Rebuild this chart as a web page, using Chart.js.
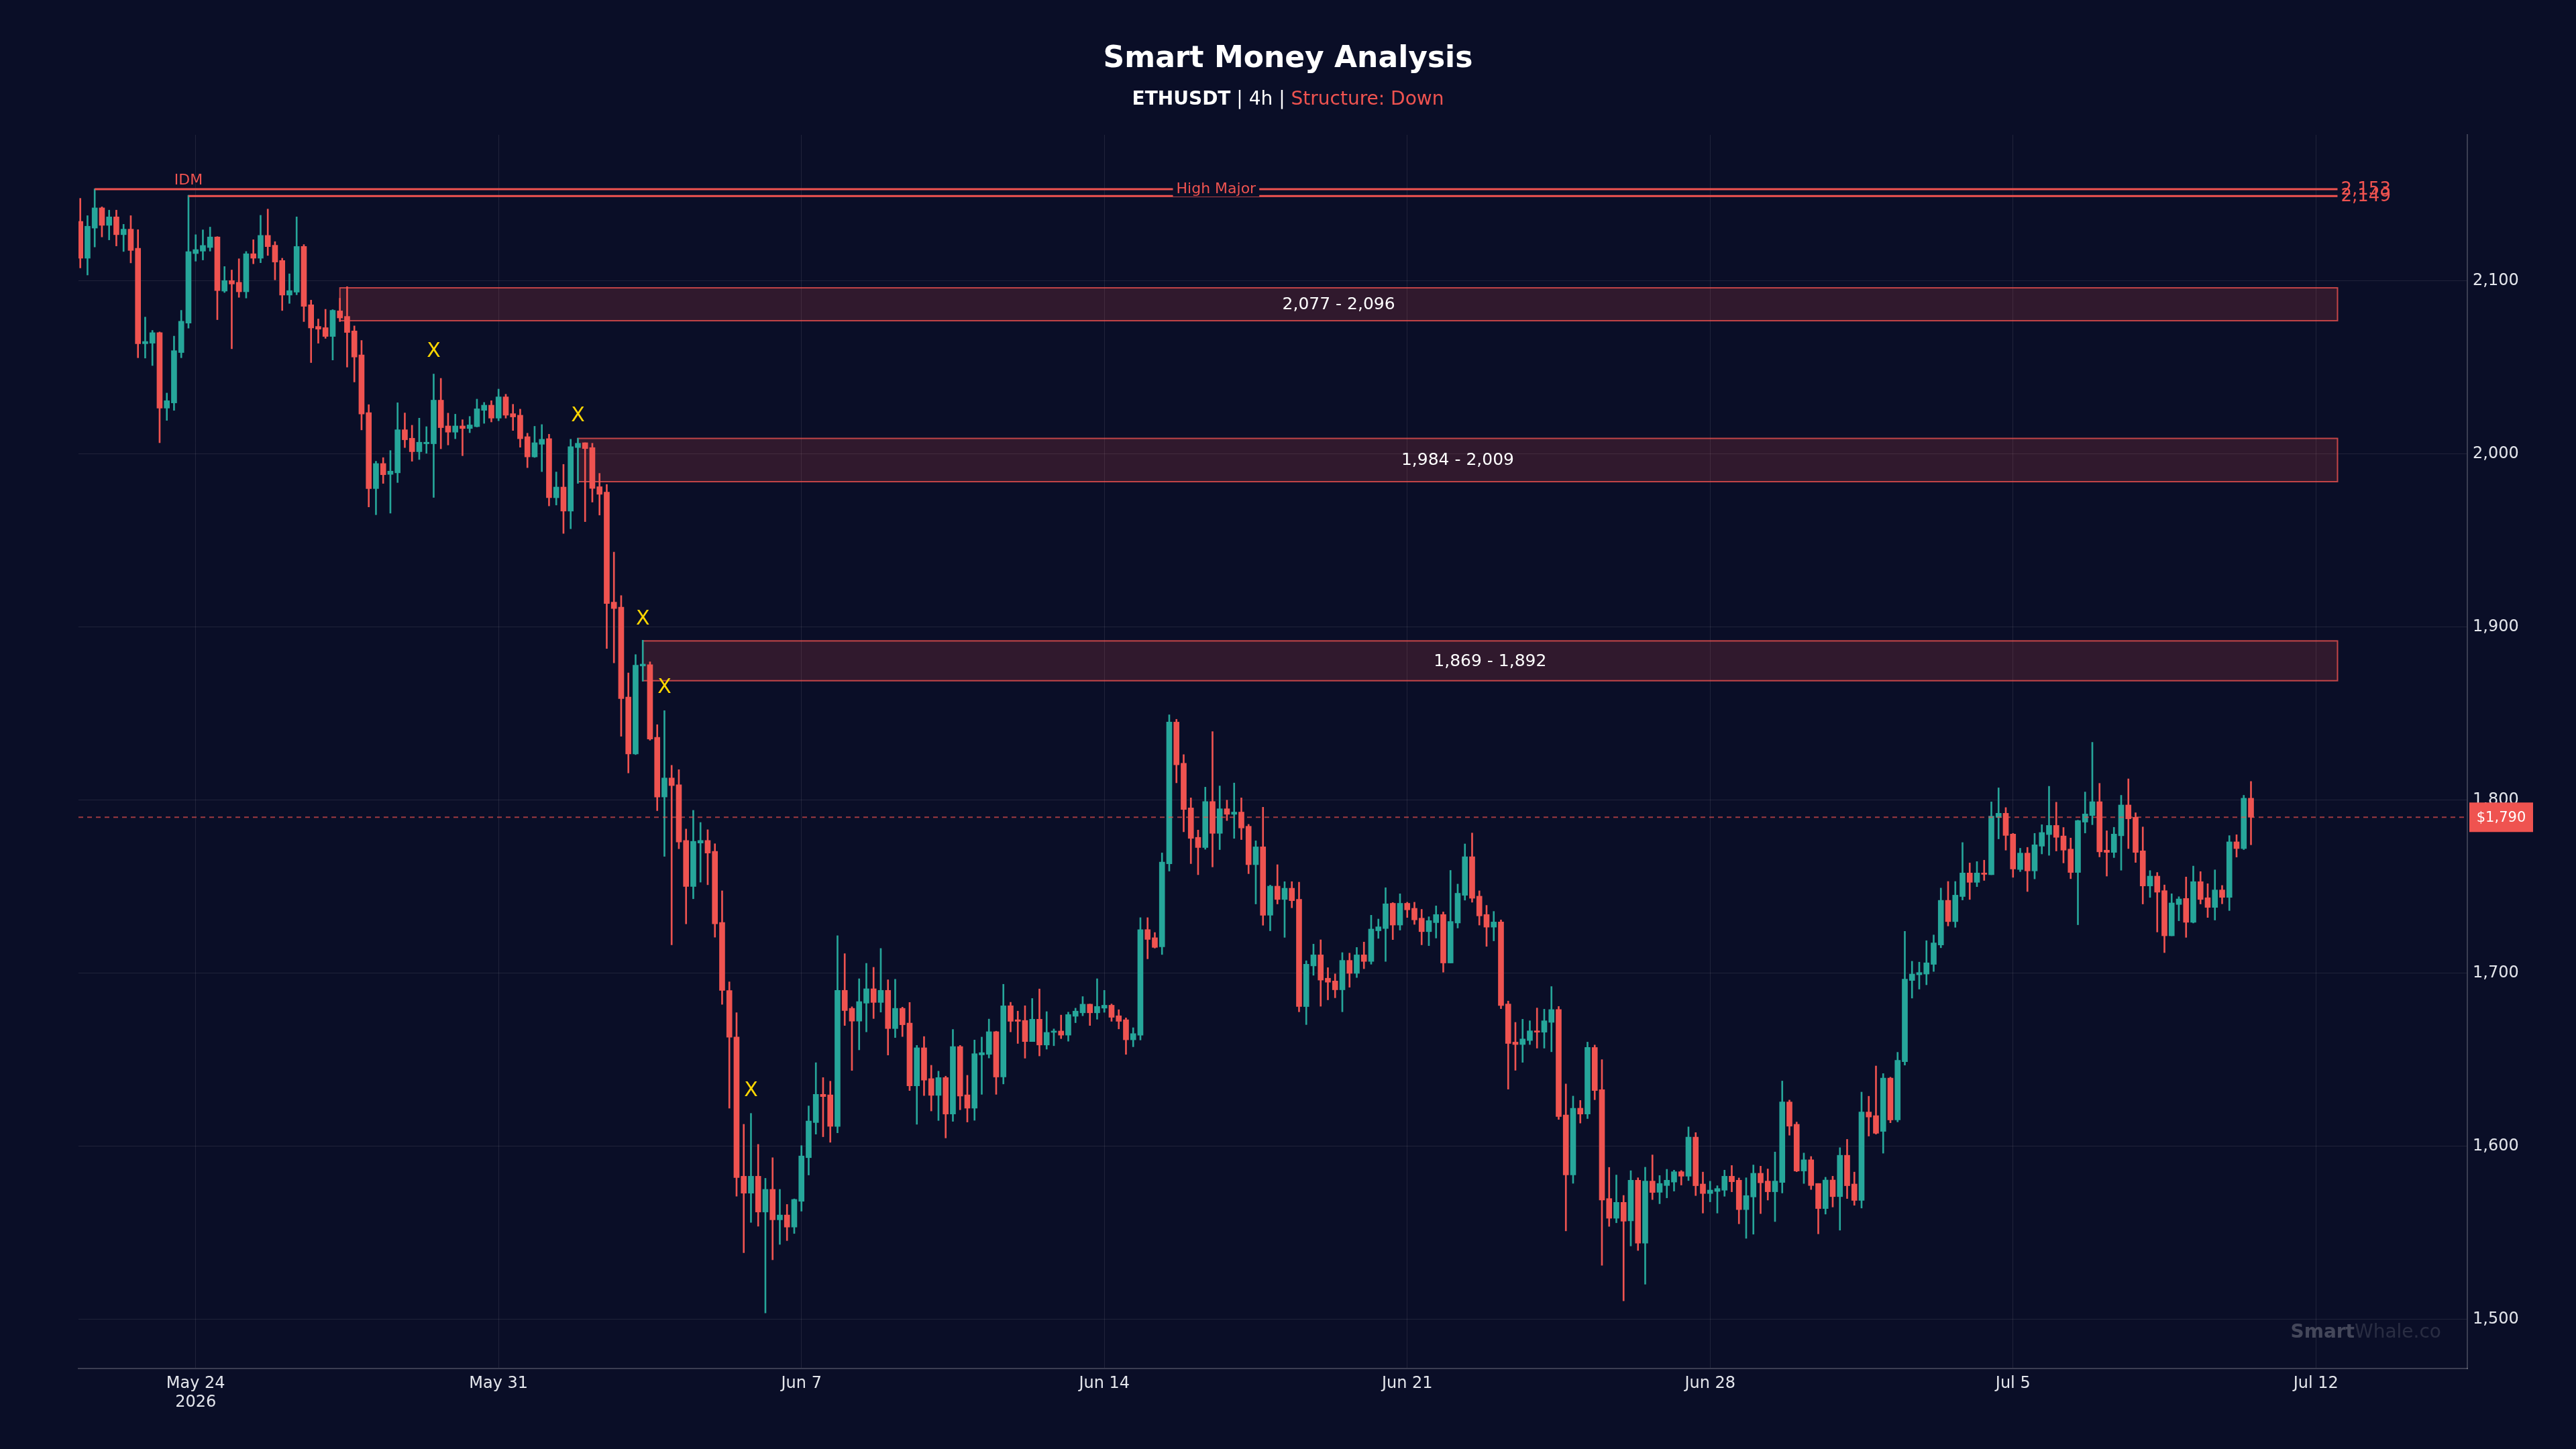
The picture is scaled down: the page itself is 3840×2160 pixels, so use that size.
<!DOCTYPE html>
<html>
<head>
<meta charset="utf-8">
<script src="https://cdn.jsdelivr.net/npm/chart.js@4.4.1/dist/chart.umd.min.js"></script>
<style>
html,body{margin:0;padding:0;background:#0a0e27;width:3840px;height:2160px;overflow:hidden}
#wrap{position:relative;width:3840px;height:2160px}
#c{position:absolute;left:0;top:0}
.ttl{position:absolute;left:0;width:3840px;text-align:center;font-family:'DejaVu Sans',sans-serif;color:#ffffff;white-space:pre}
#t1{top:63px;font-size:44px;line-height:44px;font-weight:bold}
#t2{top:133px;font-size:28px;line-height:28px}
#t2 .red{color:#ef5350}
</style>
</head>
<body>
<div id="wrap">
<canvas id="c" width="3840" height="2160"></canvas>
<div class="ttl" id="t1">Smart Money Analysis</div>
<div class="ttl" id="t2"><b>ETHUSDT</b> | 4h | <span class="red">Structure: Down</span></div>
</div>
<script>
// ---------------- DATA ----------------
const firstBarTime = Date.UTC(2026, 4, 21, 8);   // first 4h candle
const axisOrigin   = Date.UTC(2026, 4, 24, 0);   // May 24 2026
const barMs = 4 * 3600 * 1000;

const open = [
2134.4,2113.1,2130.5,2142.2,2132.1,2137.0,2126.7,2129.9,2118.9,2063.7,2064.0,2070.1,2026.5,2029.5,2058.6,2075.6,
2115.8,2117.2,2119.3,2125.4,2094.1,2100.2,2099.2,2093.7,2115.7,2113.1,2126.3,2120.6,2111.8,2091.8,2093.5,2119.9,
2086.2,2073.7,2073.0,2067.9,2082.7,2079.5,2071.1,2057.2,2023.9,1980.0,1994.5,1988.2,1989.1,2014.0,2009.1,2001.3,
2005.9,2005.9,2031.1,2016.2,2012.6,2016.2,2014.7,2015.8,2025.2,2028.2,2020.7,2033.0,2023.3,2022.4,2010.0,1998.3,
2005.6,2008.9,1974.7,1980.9,1967.0,2003.7,2006.5,2003.7,1981.1,1978.0,1914.4,1911.5,1859.6,1826.7,1877.5,1878.3,
1836.3,1801.8,1812.8,1808.9,1776.7,1750.1,1775.2,1776.7,1770.4,1729.3,1690.0,1663.1,1582.7,1572.9,1582.7,1562.0,
1575.1,1557.5,1560.3,1553.3,1568.2,1593.4,1613.7,1630.0,1629.7,1611.5,1690.1,1679.7,1672.3,1682.7,1691.0,1683.1,
1690.1,1668.0,1679.7,1671.2,1634.9,1656.9,1639.1,1629.4,1639.7,1618.6,1657.6,1629.7,1622.0,1652.8,1653.1,1666.2,
1640.0,1681.2,1673.1,1672.7,1660.5,1673.4,1658.5,1665.8,1666.6,1664.2,1675.1,1677.1,1682.1,1677.1,1679.8,1681.5,
1675.4,1673.1,1661.5,1664.2,1725.2,1720.5,1715.2,1763.2,1845.1,1821.3,1795.5,1778.5,1772.6,1799.2,1780.8,1795.0,
1791.8,1793.1,1784.9,1762.7,1773.0,1733.5,1750.3,1742.6,1749.1,1742.7,1680.7,1704.2,1710.6,1697.1,1695.5,1690.4,
1707.4,1699.9,1710.6,1706.8,1724.5,1725.8,1740.4,1727.8,1740.4,1737.5,1731.8,1724.0,1729.2,1733.9,1705.9,1729.0,
1745.0,1767.3,1744.5,1733.9,1726.6,1729.6,1682.2,1660.2,1658.8,1661.1,1666.7,1665.9,1671.6,1679.0,1618.1,1583.5,
1622.0,1618.6,1657.1,1632.7,1569.8,1558.4,1567.6,1556.9,1580.4,1544.0,1579.9,1573.4,1577.3,1579.3,1585.3,1582.7,
1605.3,1578.2,1572.7,1573.9,1574.6,1582.7,1580.4,1563.4,1570.7,1584.4,1579.9,1573.7,1579.1,1625.6,1612.7,1585.7,
1592.2,1578.5,1564.0,1580.5,1570.9,1594.8,1578.2,1568.7,1619.8,1617.7,1608.6,1639.4,1615.2,1648.9,1695.8,1699.1,
1699.5,1705.1,1716.3,1742.1,1729.8,1744.3,1757.9,1752.5,1757.9,1756.9,1790.0,1792.4,1780.4,1759.9,1769.4,1759.1,
1773.4,1780.1,1785.4,1779.3,1771.7,1758.2,1787.3,1791.1,1799.1,1771.1,1769.8,1779.4,1797.2,1790.1,1770.7,1750.4,
1756.1,1747.7,1721.6,1739.7,1743.2,1729.4,1752.9,1743.6,1738.0,1748.1,1743.8,1775.9,1772.0,1801.1
];
const high = [
2147.7,2137.7,2153.2,2142.8,2140.9,2140.9,2132.7,2137.7,2129.6,2079.1,2071.4,2070.5,2035.2,2068.1,2083.0,2149.5,
2126.7,2129.5,2131.1,2125.6,2108.3,2106.3,2112.8,2117.0,2123.8,2137.9,2141.5,2122.7,2113.1,2104.1,2137.0,2121.0,
2088.9,2078.0,2083.6,2083.4,2090.0,2096.7,2074.0,2065.6,2028.5,1995.8,1997.9,2002.0,2029.6,2023.7,2016.6,2020.7,
2015.8,2046.2,2043.7,2023.6,2023.0,2019.8,2021.7,2031.7,2029.8,2030.8,2037.5,2034.5,2028.7,2025.9,2012.0,2016.0,
2017.0,2011.4,1989.6,1994.0,2008.5,2009.1,2006.5,2006.2,1988.8,1982.4,1943.3,1918.2,1873.5,1884.1,1892.4,1879.9,
1843.6,1851.7,1820.1,1817.6,1783.3,1794.1,1787.1,1782.9,1774.8,1747.6,1695.0,1677.2,1612.7,1619.0,1601.1,1581.5,
1593.4,1575.1,1566.4,1569.6,1600.4,1623.3,1648.3,1639.7,1637.6,1721.7,1711.3,1680.6,1696.8,1705.7,1703.4,1714.3,
1696.2,1696.5,1680.4,1683.1,1658.3,1663.4,1646.8,1643.4,1640.5,1667.5,1658.3,1641.0,1661.4,1663.1,1673.5,1666.5,
1693.6,1683.2,1678.1,1681.2,1685.4,1690.9,1677.8,1667.8,1675.8,1677.5,1679.8,1686.5,1682.2,1696.8,1690.1,1682.2,
1678.9,1674.2,1668.5,1732.1,1732.1,1723.5,1769.5,1849.3,1846.7,1826.3,1801.3,1782.7,1807.5,1839.6,1808.2,1800.0,
1809.9,1801.3,1786.0,1776.5,1795.9,1750.9,1762.7,1752.9,1752.9,1752.6,1707.2,1716.8,1719.3,1703.2,1699.6,1711.9,
1711.6,1714.9,1718.0,1733.5,1731.3,1749.4,1740.8,1745.9,1741.0,1741.0,1736.9,1732.6,1738.9,1735.4,1759.4,1751.5,
1774.7,1781.0,1747.6,1739.2,1735.7,1730.8,1683.9,1671.6,1673.4,1672.5,1679.9,1679.2,1692.3,1680.8,1636.0,1629.0,
1626.5,1660.2,1658.5,1650.1,1587.8,1583.4,1571.6,1585.9,1581.8,1587.9,1595.0,1583.1,1586.7,1586.2,1586.0,1611.2,
1607.9,1585.1,1579.8,1577.2,1586.2,1588.9,1581.7,1581.8,1589.2,1588.5,1586.9,1596.7,1637.7,1626.7,1614.0,1596.1,
1594.1,1578.5,1582.1,1582.7,1599.2,1604.0,1585.1,1631.3,1628.9,1646.4,1642.0,1639.9,1654.3,1724.2,1706.9,1706.4,
1718.8,1722.1,1749.2,1753.0,1753.0,1775.5,1763.7,1764.5,1765.3,1799.0,1807.1,1795.7,1780.8,1772.2,1772.7,1780.8,
1785.8,1808.0,1798.8,1784.2,1778.1,1788.4,1804.7,1833.4,1809.7,1782.3,1784.3,1802.8,1812.3,1792.7,1784.5,1759.3,
1758.2,1751.0,1745.9,1744.2,1755.6,1761.9,1758.7,1751.7,1759.7,1750.7,1779.5,1780.0,1802.8,1810.8
];
const low = [
2107.5,2103.4,2119.6,2125.4,2123.7,2120.2,2117.0,2110.4,2055.6,2055.4,2051.1,2006.5,2019.4,2025.2,2055.6,2072.7,
2111.4,2112.1,2117.2,2077.6,2093.3,2060.8,2090.5,2090.1,2109.9,2110.5,2114.7,2100.6,2082.9,2087.0,2092.0,2076.5,
2052.8,2064.0,2066.8,2054.3,2076.5,2050.2,2041.6,2013.9,1969.4,1964.9,1983.0,1965.8,1983.5,2003.7,1995.8,1996.8,
2000.4,1974.9,2003.0,2005.2,2008.8,1999.0,2012.3,2015.6,2017.7,2018.5,2019.2,2020.7,2013.6,2003.9,1992.1,1998.0,
1989.8,1970.0,1970.5,1954.1,1956.8,1983.0,1960.9,1972.2,1964.7,1887.6,1879.3,1836.9,1815.7,1826.3,1868.7,1834.6,
1793.9,1767.5,1716.4,1771.9,1728.5,1743.0,1752.6,1751.1,1720.8,1682.0,1622.0,1571.1,1538.5,1556.0,1553.8,1503.7,
1534.4,1543.3,1545.5,1549.6,1562.5,1583.4,1607.0,1605.5,1602.3,1607.8,1669.8,1643.8,1655.7,1666.1,1673.8,1677.5,
1652.7,1662.8,1663.4,1632.2,1612.7,1629.3,1620.4,1614.9,1604.8,1614.4,1621.1,1614.0,1615.0,1630.0,1651.0,1630.0,
1636.0,1666.1,1659.4,1650.9,1660.5,1652.2,1656.1,1658.1,1662.2,1660.7,1671.4,1675.4,1669.8,1673.4,1677.4,1672.2,
1667.8,1653.1,1657.5,1661.4,1708.3,1714.5,1710.8,1759.0,1810.0,1781.7,1763.3,1756.9,1771.6,1761.4,1771.4,1788.2,
1777.9,1777.2,1757.5,1740.0,1727.7,1724.5,1740.0,1720.7,1737.8,1677.7,1670.3,1698.8,1680.9,1684.6,1685.8,1677.7,
1691.9,1697.5,1702.6,1705.2,1720.1,1706.8,1719.4,1724.9,1732.2,1728.2,1716.4,1715.9,1720.3,1700.6,1705.9,1726.1,
1742.2,1741.0,1727.8,1715.5,1718.7,1679.5,1633.0,1643.9,1648.5,1658.8,1656.7,1656.7,1654.6,1615.5,1551.1,1578.6,
1613.4,1616.0,1626.9,1531.2,1553.7,1555.8,1510.7,1542.4,1539.8,1520.3,1569.2,1566.8,1570.2,1574.1,1577.6,1580.2,
1571.5,1561.4,1567.9,1561.4,1571.1,1573.7,1555.2,1546.8,1549.2,1561.1,1568.9,1556.5,1573.0,1606.4,1585.3,1578.5,
1575.0,1549.4,1560.8,1564.9,1551.5,1569.8,1565.9,1564.3,1605.9,1607.0,1596.0,1613.6,1614.1,1646.9,1685.6,1690.8,
1693.3,1701.0,1714.7,1727.3,1726.5,1742.3,1742.6,1750.0,1753.6,1756.9,1777.6,1771.1,1755.4,1758.7,1747.2,1754.5,
1768.9,1768.1,1770.6,1763.7,1754.6,1728.0,1781.0,1785.8,1767.2,1756.1,1766.8,1759.5,1772.0,1764.0,1740.0,1743.8,
1723.8,1711.9,1721.6,1730.3,1720.7,1729.0,1740.0,1732.2,1730.7,1740.1,1736.2,1767.1,1771.4,1774.2
];
const close = [
2113.1,2131.6,2142.2,2132.1,2137.0,2126.7,2129.9,2117.6,2063.7,2065.0,2070.1,2026.5,2030.8,2059.7,2076.7,2116.9,
2118.1,2120.5,2125.4,2094.4,2100.2,2098.2,2093.7,2115.7,2113.1,2126.3,2119.8,2110.9,2091.8,2094.4,2119.9,2085.3,
2072.8,2072.1,2067.9,2083.0,2078.6,2070.2,2056.0,2023.1,1980.0,1994.5,1988.0,1990.1,2014.0,2008.2,2001.3,2006.8,
2006.8,2031.1,2015.2,2012.6,2016.2,2014.7,2016.8,2026.1,2028.2,2020.7,2033.0,2022.4,2021.4,2008.8,1998.3,2006.5,
2008.5,1974.7,1980.9,1967.0,2004.2,2006.2,2003.1,1980.1,1976.7,1913.6,1910.7,1858.7,1826.7,1878.0,1878.6,1835.3,
1801.8,1812.8,1808.4,1775.8,1750.1,1776.2,1776.7,1769.4,1728.5,1690.0,1663.0,1581.9,1572.9,1582.7,1562.0,1575.1,
1557.5,1560.3,1553.3,1569.3,1594.4,1614.6,1630.0,1628.7,1611.5,1690.1,1678.4,1672.3,1683.6,1691.0,1683.1,1690.1,
1668.0,1679.7,1670.2,1634.9,1656.9,1638.2,1629.4,1639.7,1618.6,1657.6,1629.0,1622.0,1653.5,1654.1,1666.2,1640.0,
1681.2,1672.2,1672.2,1660.5,1673.4,1658.5,1665.8,1666.6,1664.2,1676.1,1678.1,1682.1,1677.1,1680.8,1681.5,1674.5,
1672.2,1661.5,1665.1,1725.2,1719.5,1714.9,1764.2,1845.1,1820.4,1794.6,1777.9,1772.6,1799.2,1780.8,1795.0,1791.8,
1793.1,1783.9,1762.7,1773.0,1733.5,1750.3,1742.6,1749.1,1741.9,1680.7,1705.2,1710.6,1696.0,1694.8,1690.4,1707.4,
1699.9,1710.6,1706.8,1725.5,1726.8,1740.1,1727.8,1740.4,1736.6,1730.8,1724.0,1730.4,1733.9,1705.9,1729.9,1746.2,
1767.3,1743.3,1733.1,1726.6,1729.6,1681.3,1659.4,1658.8,1662.0,1666.7,1665.9,1672.5,1679.0,1617.2,1583.5,1622.0,
1618.6,1657.1,1632.2,1568.9,1558.4,1567.6,1556.7,1580.4,1544.0,1579.9,1573.3,1578.5,1580.4,1585.3,1582.7,1605.3,
1577.2,1572.7,1574.7,1575.6,1582.7,1579.5,1563.4,1571.5,1584.4,1578.9,1573.7,1579.9,1625.6,1611.6,1585.7,1592.2,
1577.3,1564.0,1580.5,1570.9,1594.8,1577.2,1568.7,1619.8,1616.9,1607.5,1639.4,1615.2,1649.7,1696.6,1699.5,1700.4,
1706.0,1717.5,1742.1,1729.8,1745.1,1757.9,1752.5,1757.9,1757.1,1790.8,1792.4,1779.6,1760.2,1769.4,1759.1,1774.2,
1781.3,1785.4,1778.5,1771.1,1758.2,1788.2,1792.0,1799.1,1770.1,1769.8,1780.4,1797.2,1789.2,1769.8,1750.4,1756.1,
1746.8,1721.6,1740.6,1742.9,1729.4,1752.9,1742.6,1738.0,1748.1,1743.8,1775.9,1772.0,1801.1,1790.1
];

// Supply / order-block zones (start bar = bars from May 24 00:00)
const zoneStart = [20, 53, 62];
const zoneLow   = [2077, 1984, 1869];
const zoneHigh  = [2096, 2009, 1892];

// Structure levels
const levelPrice = [2153, 2149];
const levelStart = [-14, -1];
const levelName  = ['High Major', 'IDM'];

// "X" markers (bar, price)
const markBar   = [33, 53, 62, 65, 77];
const markPrice = [2059, 2022, 1904.5, 1865, 1632];

// axis ticks
const yTicks = [1500, 1600, 1700, 1800, 1900, 2000, 2100];
const xTickBars = [0, 42, 84, 126, 168, 210, 252, 294];
const extendBars = 12;
const xMin = -16.25, xMax = 315, yMin = 1471.6, yMax = 2184.4;

// ---------------- CHART ----------------
const GREEN = '#26a69a', RED = '#ef5350';
const firstBar = (firstBarTime - axisOrigin) / barMs;
const xs = open.map((_, i) => firstBar + i);
const cols = open.map((o, i) => close[i] >= o ? GREEN : RED);
const lastBar = xs[xs.length - 1];
const extEnd = lastBar + extendBars;
const lastPrice = close[close.length - 1];
const fmt = v => Math.round(v).toLocaleString('en-US');
const months = ['Jan','Feb','Mar','Apr','May','Jun','Jul','Aug','Sep','Oct','Nov','Dec'];
const FONT = "'DejaVu Sans', sans-serif";
Chart.defaults.font.family = FONT;

const overlay = {
  id: 'overlay',
  beforeDatasetsDraw(chart) {
    const {ctx, chartArea: a, scales: {x, y}} = chart;
    ctx.save();
    ctx.beginPath(); ctx.rect(a.left, a.top, a.right - a.left, a.bottom - a.top); ctx.clip();
    for (let k = 0; k < zoneLow.length; k++) {
      const x0 = x.getPixelForValue(zoneStart[k]), x1 = x.getPixelForValue(extEnd);
      const y0 = y.getPixelForValue(zoneHigh[k]), y1 = y.getPixelForValue(zoneLow[k]);
      ctx.fillStyle = 'rgba(239,83,80,0.17)';
      ctx.fillRect(x0, y0, x1 - x0, y1 - y0);
      ctx.strokeStyle = 'rgba(239,83,80,0.8)';
      ctx.lineWidth = 2;
      ctx.strokeRect(x0, y0, x1 - x0, y1 - y0);
    }
    ctx.restore();
  },
  afterDatasetsDraw(chart) {
    const {ctx, chartArea: a, scales: {x, y}} = chart;
    ctx.save();
    // zone labels
    ctx.font = '25px ' + FONT;
    ctx.fillStyle = '#ffffff';
    ctx.textAlign = 'center'; ctx.textBaseline = 'middle';
    for (let k = 0; k < zoneLow.length; k++) {
      const x0 = x.getPixelForValue(zoneStart[k]), x1 = x.getPixelForValue(extEnd);
      const ym = (y.getPixelForValue(zoneHigh[k]) + y.getPixelForValue(zoneLow[k])) / 2;
      ctx.fillText(fmt(zoneLow[k]) + ' - ' + fmt(zoneHigh[k]), (x0 + x1) / 2, ym + 1);
    }
    // current price dashed line
    const yl = y.getPixelForValue(lastPrice);
    ctx.strokeStyle = 'rgba(239,83,80,0.65)';
    ctx.lineWidth = 2;
    ctx.setLineDash([7, 6]);
    ctx.beginPath(); ctx.moveTo(a.left, yl); ctx.lineTo(a.right, yl); ctx.stroke();
    ctx.setLineDash([]);
    // structure levels
    const xe = x.getPixelForValue(extEnd);
    for (let k = 0; k < levelPrice.length; k++) {
      const yv = y.getPixelForValue(levelPrice[k]);
      const xs0 = x.getPixelForValue(levelStart[k]);
      ctx.strokeStyle = RED; ctx.lineWidth = 3;
      ctx.beginPath(); ctx.moveTo(xs0, yv); ctx.lineTo(xe, yv); ctx.stroke();
    }
    for (let k = 0; k < levelPrice.length; k++) {
      const yv = y.getPixelForValue(levelPrice[k]);
      ctx.font = '26px ' + FONT; ctx.fillStyle = RED;
      ctx.textAlign = 'left'; ctx.textBaseline = 'middle';
      ctx.fillText(fmt(levelPrice[k]), xe + 5, yv + 1);
    }
    // level names
    ctx.font = '22px ' + FONT;
    ctx.textAlign = 'center'; ctx.textBaseline = 'middle';
    {
      const yv = y.getPixelForValue(levelPrice[0]);
      const xm = (x.getPixelForValue(levelStart[0]) + xe) / 2;
      const w = ctx.measureText(levelName[0]).width;
      ctx.fillStyle = '#0a0e27';
      ctx.fillRect(xm - w / 2 - 5, yv - 13, w + 10, 24);
      ctx.fillStyle = RED;
      ctx.fillText(levelName[0], xm, yv);
      const y1 = y.getPixelForValue(levelPrice[1]);
      ctx.fillText(levelName[1], x.getPixelForValue(levelStart[1]), y1 - 23);
    }
    // X markers
    ctx.font = '30px ' + FONT; ctx.fillStyle = '#ffd700';
    for (let k = 0; k < markBar.length; k++) {
      ctx.fillText('X', x.getPixelForValue(markBar[k]), y.getPixelForValue(markPrice[k]));
    }
    // watermark
    ctx.textAlign = 'right'; ctx.textBaseline = 'alphabetic';
    ctx.font = '28px ' + FONT;
    const wx = a.right - 39, wy = a.bottom - 46;
    ctx.fillStyle = 'rgba(255,255,255,0.13)';
    ctx.fillText('Whale.co', wx, wy);
    const ww = ctx.measureText('Whale.co').width;
    ctx.font = 'bold 28px ' + FONT;
    ctx.fillStyle = 'rgba(255,255,255,0.24)';
    ctx.fillText('Smart', wx - ww, wy);
    // price tag
    ctx.fillStyle = RED;
    ctx.fillRect(a.right + 3, yl - 22, 95, 44);
    ctx.fillStyle = '#ffffff'; ctx.font = '21px ' + FONT;
    ctx.textAlign = 'center'; ctx.textBaseline = 'middle';
    ctx.fillText('$' + fmt(lastPrice), a.right + 50.5, yl + 1);
    ctx.restore();
  }
};

const gridCol = 'rgba(255,255,255,0.09)';
const axisCol = 'rgba(255,255,255,0.2)';
const tickCol = '#e4e6ec';

new Chart(document.getElementById('c'), {
  type: 'bar',
  data: {
    datasets: [
      { label: 'wick', data: xs.map((v, i) => ({x: v, y: [low[i], high[i]]})),
        backgroundColor: cols, barThickness: 2, grouped: false, order: 2, minBarLength: 1 },
      { label: 'body', data: xs.map((v, i) => ({x: v, y: [open[i], close[i]]})),
        backgroundColor: cols, barThickness: 8, grouped: false, order: 1, minBarLength: 2 }
    ]
  },
  options: {
    responsive: false, animation: false, devicePixelRatio: 1,
    layout: { padding: { left: 117, top: 201, right: 0, bottom: 0 } },
    plugins: { legend: { display: false }, tooltip: { enabled: false }, title: { display: false } },
    scales: {
      x: {
        type: 'linear', min: xMin, max: xMax, offset: false,
        grid: { color: gridCol, drawTicks: false, offset: false },
        border: { display: true, color: axisCol, width: 2 },
        ticks: {
          color: tickCol, font: { size: 24 }, padding: 8, maxRotation: 0,
          callback: (v, i) => {
            const d = new Date(axisOrigin + v * barMs);
            const s = months[d.getUTCMonth()] + ' ' + d.getUTCDate();
            return i === 0 ? [s, String(d.getUTCFullYear())] : s;
          }
        },
        afterBuildTicks: s => { s.ticks = xTickBars.map(v => ({value: v})); },
        afterFit: s => { s.height = 120; }
      },
      y: {
        type: 'linear', position: 'right', min: yMin, max: yMax,
        grid: { color: gridCol, drawTicks: false },
        border: { display: true, color: axisCol, width: 2 },
        ticks: { color: tickCol, font: { size: 24 }, padding: 8, callback: v => fmt(v) },
        afterBuildTicks: s => { s.ticks = yTicks.map(v => ({value: v})); },
        afterFit: s => { s.width = 162; }
      }
    }
  },
  plugins: [overlay]
});
</script>
</body>
</html>
